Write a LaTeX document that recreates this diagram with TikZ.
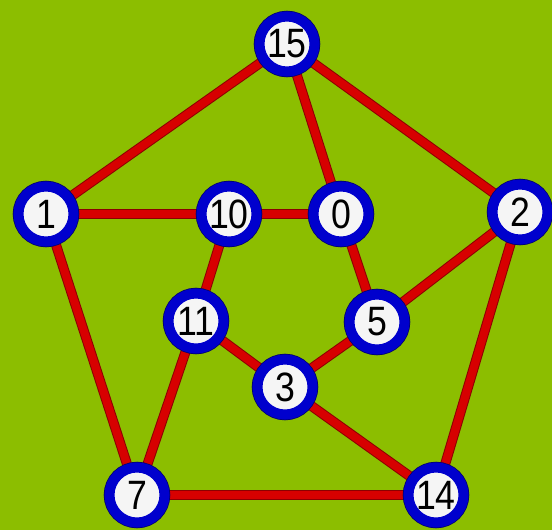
\documentclass[tikz,border=0pt]{standalone}
\usepackage{fontspec}
\setmainfont{Liberation Sans}[FakeStretch=0.87]
\usepackage{xcolor}
\usepackage{tikz}
\usetikzlibrary{backgrounds}
\definecolor{leafgreen}{RGB}{140,190,0}
\definecolor{ringblue}{RGB}{0,0,205}
\definecolor{ringnavy}{RGB}{0,0,110}
\definecolor{edgered}{RGB}{215,0,0}
\definecolor{edgedark}{RGB}{140,0,0}

\begin{document}
\begin{tikzpicture}[
    x=1pt, y=-1pt,
    vtx/.style={circle, draw=ringblue, line width=10pt, fill=white!96!black, minimum size=55pt, inner sep=0pt,
        preaction={draw=ringnavy, line width=11.5pt},
        font=\fontsize{41}{41}\selectfont},
    lnk/.style={draw=edgedark, double=edgered, double distance=8pt, line width=1pt},
]
    \useasboundingbox (0,0) rectangle (552,530);

    % Outer pentagon
    \node[vtx] (v15) at (287, 44) {15};
    \node[vtx] (v1) at (46, 214) {1};
    \node[vtx] (v2) at (520, 212) {2};
    \node[vtx] (v7) at (137, 495) {7};
    \node[vtx] (v14) at (436, 495) {14};

    % Inner star
    \node[vtx] (v10) at (229, 214) {10};
    \node[vtx] (v0) at (341, 214) {0};
    \node[vtx] (v11) at (196, 321) {11};
    \node[vtx] (v5) at (377, 322) {5};
    \node[vtx] (v3) at (285, 387) {3};

    \begin{scope}[on background layer]
        \fill[leafgreen] (0,0) rectangle (552,530);

        % Edges
        \draw[lnk] (v15) -- (v1);
        \draw[lnk] (v15) -- (v0);
        \draw[lnk] (v15) -- (v2);
        \draw[lnk] (v1) -- (v10);
        \draw[lnk] (v10) -- (v0);
        \draw[lnk] (v1) -- (v7);
        \draw[lnk] (v2) -- (v5);
        \draw[lnk] (v2) -- (v14);
        \draw[lnk] (v10) -- (v11);
        \draw[lnk] (v0) -- (v5);
        \draw[lnk] (v11) -- (v3);
        \draw[lnk] (v5) -- (v3);
        \draw[lnk] (v11) -- (v7);
        \draw[lnk] (v3) -- (v14);
        \draw[lnk] (v7) -- (v14);
    \end{scope}
\end{tikzpicture}
\end{document}
